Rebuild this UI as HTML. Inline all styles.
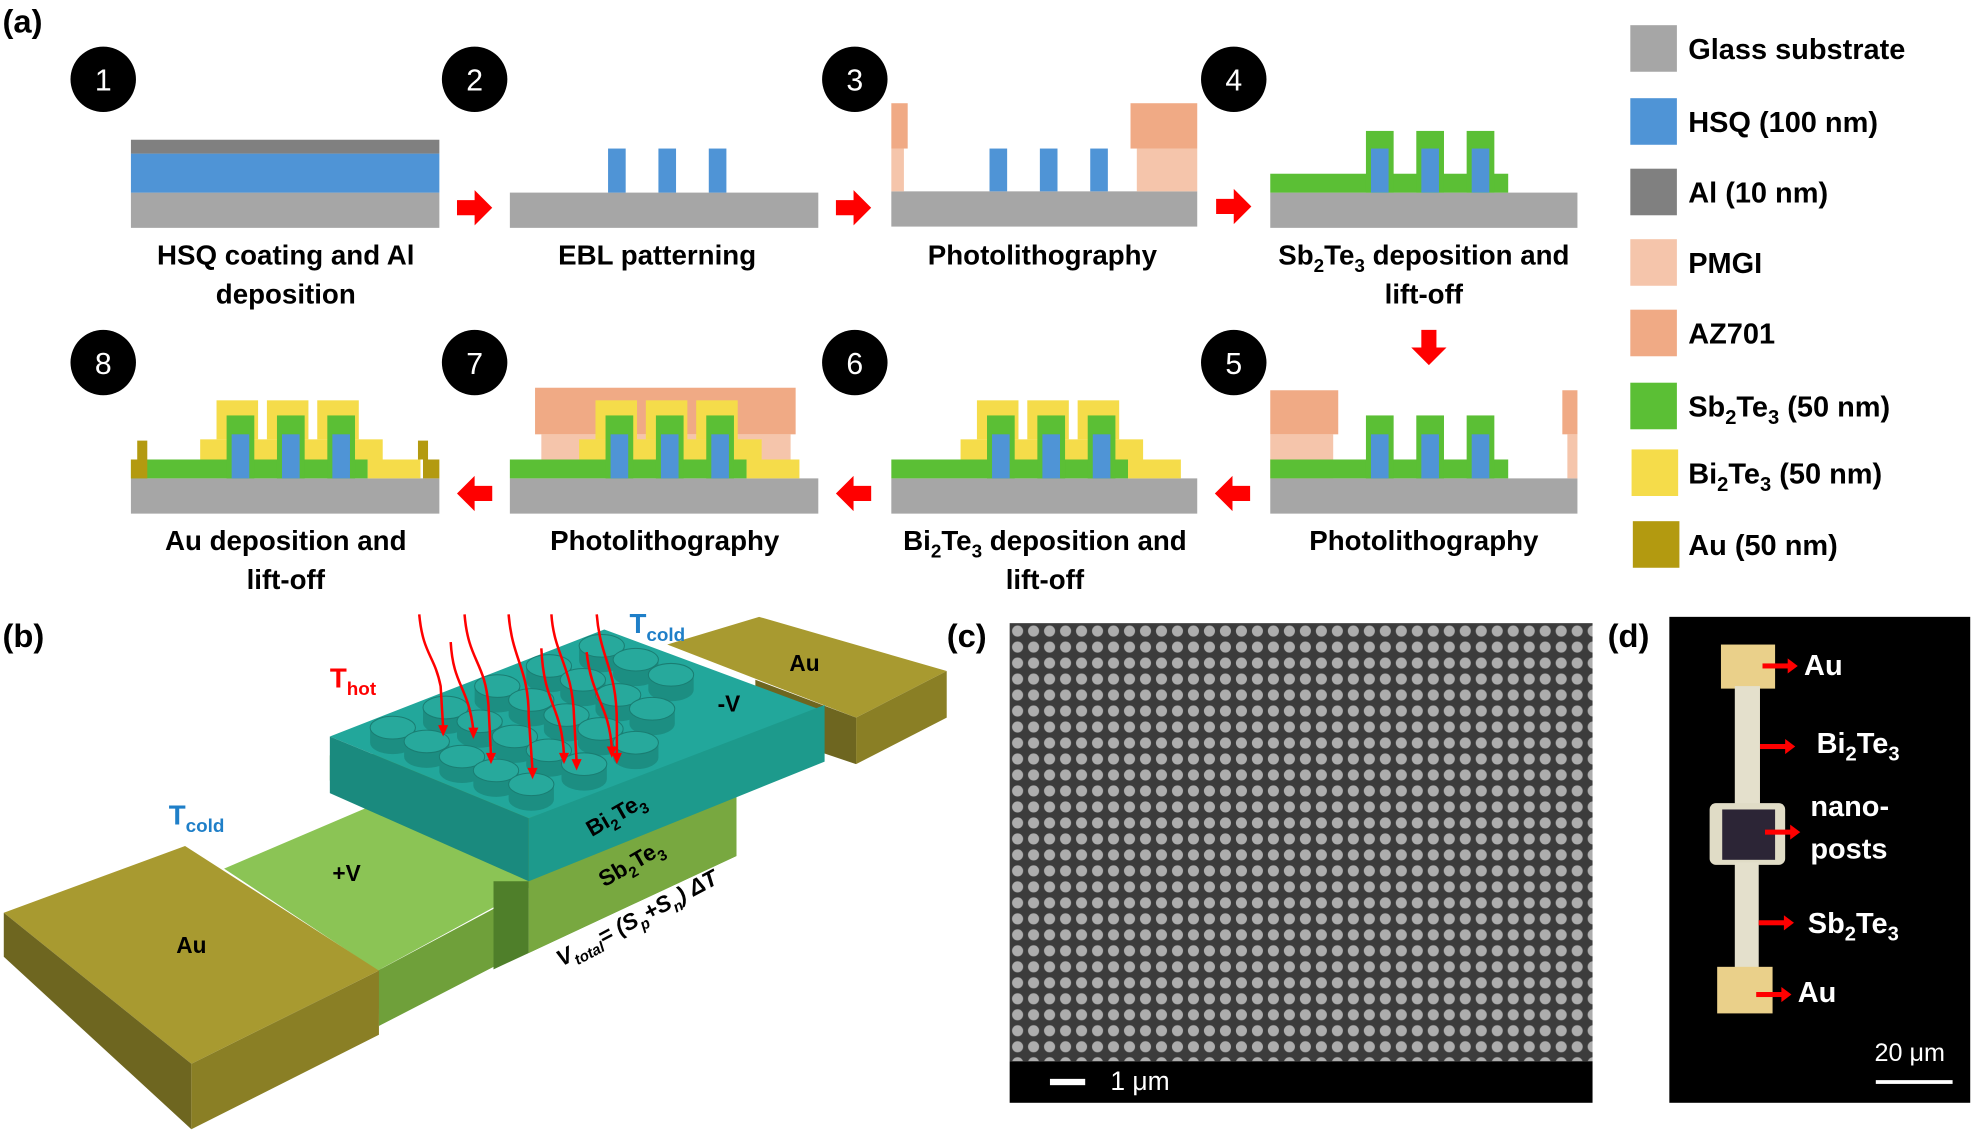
<!DOCTYPE html>
<html><head><meta charset="utf-8"><style>
html,body{margin:0;padding:0;background:#fff;}
svg{display:block;}
text{font-family:"Liberation Sans",Arial,sans-serif;}
.lb{font-weight:bold;font-size:22px;fill:#000;text-anchor:middle;}
.lg{font-weight:bold;font-size:23px;fill:#000;}
.num{font-size:24px;fill:#fff;text-anchor:middle;}
.pl{font-size:26px;fill:#000;font-weight:bold;}
</style></head><body>
<svg width="1974" height="1133" viewBox="0 0 1568 900" preserveAspectRatio="none" xmlns="http://www.w3.org/2000/svg">
<defs>
<pattern id="dots" x="802" y="495" width="12.7" height="12.7" patternUnits="userSpaceOnUse">
<rect width="12.7" height="12.7" fill="#3c3c3c"/>
<circle cx="6.3" cy="6.3" r="4.4" fill="#adadad"/>
</pattern>
<g id="ra"><polygon points="0,-6 14,-6 14,-14 28,0 14,14 14,6 0,6" fill="#f00"/></g>
<g id="post">
<path d="M-18,-12 L-18,0 A18,9 0 0 0 18,0 L18,-12 Z" fill="#1c8e82"/>
<ellipse cx="0" cy="-12" rx="18" ry="9" fill="#27a99c" stroke="#1a7d72" stroke-width="0.8"/>
</g>
</defs>
<rect width="1568" height="900" fill="#fff"/>

<text x="2" y="26" class="pl">(a)</text>
<text x="2" y="514" class="pl">(b)</text>
<text x="752" y="514" class="pl">(c)</text>
<text x="1277" y="514" class="pl">(d)</text>

<g>
<circle cx="82" cy="63" r="26" fill="#000"/><text x="82" y="72" class="num">1</text>
<circle cx="377" cy="63" r="26" fill="#000"/><text x="377" y="72" class="num">2</text>
<circle cx="679" cy="63" r="26" fill="#000"/><text x="679" y="72" class="num">3</text>
<circle cx="980" cy="63" r="26" fill="#000"/><text x="980" y="72" class="num">4</text>
<circle cx="82" cy="288" r="26" fill="#000"/><text x="82" y="297" class="num">8</text>
<circle cx="377" cy="288" r="26" fill="#000"/><text x="377" y="297" class="num">7</text>
<circle cx="679" cy="288" r="26" fill="#000"/><text x="679" y="297" class="num">6</text>
<circle cx="980" cy="288" r="26" fill="#000"/><text x="980" y="297" class="num">5</text>
</g>

<rect x="104" y="153" width="245" height="28" fill="#a6a6a6"/>
<rect x="104" y="122" width="245" height="31" fill="#4f94d6"/>
<rect x="104" y="111" width="245" height="11" fill="#808080"/>
<rect x="405" y="153" width="245" height="28" fill="#a6a6a6"/>
<rect x="483" y="118" width="14" height="35" fill="#4f94d6"/>
<rect x="523" y="118" width="14" height="35" fill="#4f94d6"/>
<rect x="563" y="118" width="14" height="35" fill="#4f94d6"/>
<rect x="708" y="152" width="243" height="28" fill="#a6a6a6"/>
<rect x="786" y="118" width="14" height="34" fill="#4f94d6"/>
<rect x="826" y="118" width="14" height="34" fill="#4f94d6"/>
<rect x="866" y="118" width="14" height="34" fill="#4f94d6"/>
<rect x="708" y="118" width="10" height="34" fill="#f5c5ab"/>
<rect x="708" y="82" width="13" height="36" fill="#f0aa85"/>
<rect x="903" y="118" width="48" height="34" fill="#f5c5ab"/>
<rect x="898" y="82" width="53" height="36" fill="#f0aa85"/>
<rect x="1009" y="153" width="244" height="28" fill="#a6a6a6"/>
<rect x="1009" y="138" width="189" height="15" fill="#5bbf35"/>
<rect x="1085" y="104" width="22" height="49" fill="#5bbf35"/>
<rect x="1125" y="104" width="22" height="49" fill="#5bbf35"/>
<rect x="1165" y="104" width="22" height="49" fill="#5bbf35"/>
<rect x="1089" y="118" width="14" height="35" fill="#4f94d6"/>
<rect x="1129" y="118" width="14" height="35" fill="#4f94d6"/>
<rect x="1169" y="118" width="14" height="35" fill="#4f94d6"/>

<rect x="1009" y="380" width="244" height="28" fill="#a6a6a6"/>
<rect x="1009" y="345" width="50" height="35" fill="#f5c5ab"/>
<rect x="1009" y="310" width="54" height="35" fill="#f0aa85"/>
<rect x="1245" y="345" width="8" height="35" fill="#f5c5ab"/>
<rect x="1241" y="310" width="12" height="35" fill="#f0aa85"/>
<rect x="1009" y="365" width="189" height="15" fill="#5bbf35"/>
<rect x="1085" y="330" width="22" height="50" fill="#5bbf35"/>
<rect x="1125" y="330" width="22" height="50" fill="#5bbf35"/>
<rect x="1165" y="330" width="22" height="50" fill="#5bbf35"/>
<rect x="1089" y="345" width="14" height="35" fill="#4f94d6"/>
<rect x="1129" y="345" width="14" height="35" fill="#4f94d6"/>
<rect x="1169" y="345" width="14" height="35" fill="#4f94d6"/>

<g transform="translate(708,0)">
<rect x="0" y="380" width="243" height="28" fill="#a6a6a6"/>
<rect x="55" y="349" width="145" height="16" fill="#f5dc4a"/>
<rect x="188" y="365" width="42" height="15" fill="#f5dc4a"/>
<rect x="68" y="318" width="33" height="31" fill="#f5dc4a"/>
<rect x="108" y="318" width="33" height="31" fill="#f5dc4a"/>
<rect x="148" y="318" width="33" height="31" fill="#f5dc4a"/>
<rect x="0" y="365" width="188" height="15" fill="#5bbf35"/>
<rect x="76" y="330" width="22" height="50" fill="#5bbf35"/>
<rect x="116" y="330" width="22" height="50" fill="#5bbf35"/>
<rect x="156" y="330" width="22" height="50" fill="#5bbf35"/>
<rect x="80" y="345" width="14" height="35" fill="#4f94d6"/>
<rect x="120" y="345" width="14" height="35" fill="#4f94d6"/>
<rect x="160" y="345" width="14" height="35" fill="#4f94d6"/>
</g>
<g transform="translate(405,0)">
<rect x="0" y="380" width="245" height="28" fill="#a6a6a6"/>
<rect x="25" y="345" width="198" height="20" fill="#f5c5ab"/>
<rect x="20" y="308" width="207" height="37" fill="#f0aa85"/>
<rect x="55" y="349" width="145" height="16" fill="#f5dc4a"/>
<rect x="188" y="365" width="42" height="15" fill="#f5dc4a"/>
<rect x="68" y="318" width="33" height="31" fill="#f5dc4a"/>
<rect x="108" y="318" width="33" height="31" fill="#f5dc4a"/>
<rect x="148" y="318" width="33" height="31" fill="#f5dc4a"/>
<rect x="0" y="365" width="188" height="15" fill="#5bbf35"/>
<rect x="76" y="330" width="22" height="50" fill="#5bbf35"/>
<rect x="116" y="330" width="22" height="50" fill="#5bbf35"/>
<rect x="156" y="330" width="22" height="50" fill="#5bbf35"/>
<rect x="80" y="345" width="14" height="35" fill="#4f94d6"/>
<rect x="120" y="345" width="14" height="35" fill="#4f94d6"/>
<rect x="160" y="345" width="14" height="35" fill="#4f94d6"/>
</g>
<g transform="translate(104,0)">
<rect x="0" y="380" width="245" height="28" fill="#a6a6a6"/>
<rect x="55" y="349" width="145" height="16" fill="#f5dc4a"/>
<rect x="188" y="365" width="42" height="15" fill="#f5dc4a"/>
<rect x="68" y="318" width="33" height="31" fill="#f5dc4a"/>
<rect x="108" y="318" width="33" height="31" fill="#f5dc4a"/>
<rect x="148" y="318" width="33" height="31" fill="#f5dc4a"/>
<rect x="0" y="365" width="188" height="15" fill="#5bbf35"/>
<rect x="76" y="330" width="22" height="50" fill="#5bbf35"/>
<rect x="116" y="330" width="22" height="50" fill="#5bbf35"/>
<rect x="156" y="330" width="22" height="50" fill="#5bbf35"/>
<rect x="80" y="345" width="14" height="35" fill="#4f94d6"/>
<rect x="120" y="345" width="14" height="35" fill="#4f94d6"/>
<rect x="160" y="345" width="14" height="35" fill="#4f94d6"/>
<rect x="0" y="365" width="13" height="15" fill="#b39a10"/>
<rect x="5" y="350" width="8" height="15" fill="#b39a10"/>
<rect x="232" y="365" width="13" height="15" fill="#b39a10"/>
<rect x="228" y="350" width="8" height="15" fill="#b39a10"/>
</g>

<use href="#ra" transform="translate(363,165)"/>
<use href="#ra" transform="translate(664,165)"/>
<use href="#ra" transform="translate(966,164)"/>
<use href="#ra" transform="translate(1135,262) rotate(90)"/>
<use href="#ra" transform="translate(993,392) rotate(180)"/>
<use href="#ra" transform="translate(692,392) rotate(180)"/>
<use href="#ra" transform="translate(391,392) rotate(180)"/>

<text x="227" y="210" class="lb">HSQ coating and Al</text>
<text x="227" y="241" class="lb">deposition</text>
<text x="522" y="210" class="lb">EBL patterning</text>
<text x="828" y="210" class="lb">Photolithography</text>
<text x="1131" y="210" class="lb">Sb<tspan font-size="15" dy="6">2</tspan><tspan dy="-6">Te</tspan><tspan font-size="15" dy="6">3</tspan><tspan dy="-6"> deposition and</tspan></text>
<text x="1131" y="241" class="lb">lift-off</text>
<text x="227" y="437" class="lb">Au deposition and</text>
<text x="227" y="468" class="lb">lift-off</text>
<text x="528" y="437" class="lb">Photolithography</text>
<text x="830" y="437" class="lb">Bi<tspan font-size="15" dy="6">2</tspan><tspan dy="-6">Te</tspan><tspan font-size="15" dy="6">3</tspan><tspan dy="-6"> deposition and</tspan></text>
<text x="830" y="468" class="lb">lift-off</text>
<text x="1131" y="437" class="lb">Photolithography</text>

<rect x="1295" y="20" width="37" height="37" fill="#a6a6a6"/><text x="1341" y="47" class="lg">Glass substrate</text>
<rect x="1295" y="78" width="37" height="37" fill="#4f94d6"/><text x="1341" y="105" class="lg">HSQ (100 nm)</text>
<rect x="1295" y="134" width="37" height="37" fill="#808080"/><text x="1341" y="161" class="lg">Al (10 nm)</text>
<rect x="1295" y="190" width="37" height="37" fill="#f5c5ab"/><text x="1341" y="217" class="lg">PMGI</text>
<rect x="1295" y="246" width="37" height="37" fill="#f0aa85"/><text x="1341" y="273" class="lg">AZ701</text>
<rect x="1295" y="304" width="37" height="37" fill="#5bbf35"/><text x="1341" y="331" class="lg">Sb<tspan font-size="16" dy="6">2</tspan><tspan dy="-6">Te</tspan><tspan font-size="16" dy="6">3</tspan><tspan dy="-6"> (50 nm)</tspan></text>
<rect x="1296" y="357" width="37" height="37" fill="#f5dc4a"/><text x="1341" y="384" class="lg">Bi<tspan font-size="16" dy="6">2</tspan><tspan dy="-6">Te</tspan><tspan font-size="16" dy="6">3</tspan><tspan dy="-6"> (50 nm)</tspan></text>
<rect x="1297" y="414" width="37" height="37" fill="#b39a10"/><text x="1341" y="441" class="lg">Au (50 nm)</text>

<!-- panel b 3D -->
<polygon points="530,512 603,490 752,533 680,570" fill="#a89a30"/>
<polygon points="680,570 752,533 752,570 680,607" fill="#8a7f25"/>
<polygon points="600,540 680,570 680,607 600,580" fill="#6e6620"/>
<!-- green leg + Sb block -->
<polygon points="178,690 295,640 430,700 300,771" fill="#8bc455"/>
<polygon points="300,771 392,722 392,768 301,815" fill="#6fa03a"/>
<polygon points="392,700 420,700 420,757 392,770" fill="#4f7f2a"/>
<polygon points="262,620 420,700 420,757 585,680 585,590 262,600" fill="#6a9f3a"/>
<polygon points="420,700 585,625 585,680 420,757" fill="#78a840"/>
<!-- blue block -->
<polygon points="262,585 480,500 655,565 420,650" fill="#22a79b"/>
<polygon points="262,585 420,650 420,700 262,630" fill="#1a8a7e"/>
<polygon points="420,650 655,560 655,605 420,700" fill="#1d9a8c"/>
<!-- nanoposts (sorted back to front) -->
<use href="#post" x="478" y="525"/>
<use href="#post" x="436" y="541"/>
<use href="#post" x="505" y="536"/>
<use href="#post" x="463" y="552"/>
<use href="#post" x="533" y="548"/>
<use href="#post" x="395" y="557"/>
<use href="#post" x="491" y="564"/>
<use href="#post" x="422" y="568"/>
<use href="#post" x="354" y="574"/>
<use href="#post" x="518" y="575"/>
<use href="#post" x="450" y="580"/>
<use href="#post" x="381" y="585"/>
<use href="#post" x="312" y="590"/>
<use href="#post" x="477" y="591"/>
<use href="#post" x="409" y="597"/>
<use href="#post" x="339" y="601"/>
<use href="#post" x="505" y="602"/>
<use href="#post" x="436" y="608"/>
<use href="#post" x="367" y="613"/>
<use href="#post" x="464" y="619"/>
<use href="#post" x="394" y="624"/>
<use href="#post" x="422" y="635"/>
<!-- heat arrows -->
<g fill="none" stroke="#f00" stroke-width="2">
<path d="M333,488 C336,520 345,520 350,545 L352,578"/>
<path d="M369,488 C372,525 385,525 388,560 L390,600"/>
<path d="M404,488 C407,525 420,530 420,570 L423,612"/>
<path d="M438,488 C440,520 455,530 456,570 L458,605"/>
<path d="M474,488 C477,525 490,530 490,575 L490,600"/>
<path d="M358,510 C360,545 372,545 376,580"/>
<path d="M430,515 C432,560 446,560 448,600"/>
<path d="M466,518 C470,555 484,560 486,595"/>
</g>
<g fill="#f00">
<polygon points="348,576 356,576 352,585"/><polygon points="386,598 394,598 390,607"/><polygon points="419,610 427,610 423,619"/><polygon points="454,603 462,603 458,612"/><polygon points="486,598 494,598 490,607"/><polygon points="372,578 380,578 376,587"/><polygon points="444,598 452,598 448,607"/><polygon points="482,593 490,593 486,602"/>
</g>
<!-- left Au -->
<polygon points="3,725 147,672 301,771 152,845" fill="#a89a30"/>
<polygon points="3,725 152,845 152,897 3,760" fill="#6e6620"/>
<polygon points="152,845 301,771 301,822 152,897" fill="#8a7f25"/>
<!-- b labels -->
<text x="500" y="503" font-size="22" fill="#1f7fc8" font-weight="bold">T<tspan font-size="15" dy="6">cold</tspan></text>
<text x="134" y="655" font-size="22" fill="#1f7fc8" font-weight="bold">T<tspan font-size="15" dy="6">cold</tspan></text>
<text x="262" y="546" font-size="22" fill="#f00" font-weight="bold">T<tspan font-size="15" dy="6">hot</tspan></text>
<text x="627" y="533" font-size="18" font-weight="bold">Au</text>
<text x="570" y="565" font-size="18" font-weight="bold">-V</text>
<text x="264" y="700" font-size="18" font-weight="bold">+V</text>
<text x="140" y="757" font-size="18" font-weight="bold">Au</text>
<text transform="translate(470,665) rotate(-30)" font-size="18" font-weight="bold">Bi<tspan font-size="12" dy="5">2</tspan><tspan dy="-5">Te</tspan><tspan font-size="12" dy="5">3</tspan></text>
<text transform="translate(480,705) rotate(-30)" font-size="18" font-weight="bold">Sb<tspan font-size="12" dy="5">2</tspan><tspan dy="-5">Te</tspan><tspan font-size="12" dy="5">3</tspan></text>
<text transform="translate(446,768) rotate(-28)" font-size="18" font-weight="bold" font-style="italic">V<tspan font-size="12" dy="5">total</tspan><tspan dy="-5">= (S</tspan><tspan font-size="12" dy="5">p</tspan><tspan dy="-5">+S</tspan><tspan font-size="12" dy="5">n</tspan><tspan dy="-5">) ΔT</tspan></text>

<!-- panel c -->
<rect x="802" y="495" width="463" height="348" fill="url(#dots)"/>
<rect x="802" y="843" width="463" height="33" fill="#000"/>
<rect x="834" y="857" width="28" height="5" fill="#fff"/>
<text x="882" y="866" font-size="21" fill="#fff">1 μm</text>

<!-- panel d -->
<rect x="1326" y="490" width="239" height="386" fill="#000"/>
<rect x="1367" y="512" width="43" height="35" fill="#ead08a"/>
<rect x="1378" y="545" width="20" height="97" fill="#e4e0cc"/>
<rect x="1358" y="638" width="60" height="49" rx="5" fill="#e0dcc6"/>
<rect x="1368" y="643" width="42" height="40" fill="#2c2536"/>
<rect x="1378" y="685" width="19" height="85" fill="#e4e0cc"/>
<rect x="1364" y="768" width="44" height="37" fill="#ead08a"/>
<g fill="#f00">
<rect x="1400" y="527" width="22" height="4"/><polygon points="1420,523 1428,529 1420,535"/>
<rect x="1398" y="591" width="22" height="4"/><polygon points="1418,587 1426,593 1418,599"/>
<rect x="1402" y="659" width="22" height="4"/><polygon points="1422,655 1430,661 1422,667"/>
<rect x="1397" y="731" width="22" height="4"/><polygon points="1417,727 1425,733 1417,739"/>
<rect x="1395" y="788" width="22" height="4"/><polygon points="1415,784 1423,790 1415,796"/>
</g>
<g fill="#fff" font-weight="bold" font-size="23">
<text x="1433" y="536">Au</text>
<text x="1443" y="598">Bi<tspan font-size="16" dy="6">2</tspan><tspan dy="-6">Te</tspan><tspan font-size="16" dy="6">3</tspan></text>
<text x="1438" y="648">nano-</text>
<text x="1438" y="682">posts</text>
<text x="1436" y="741">Sb<tspan font-size="16" dy="6">2</tspan><tspan dy="-6">Te</tspan><tspan font-size="16" dy="6">3</tspan></text>
<text x="1428" y="796">Au</text>
</g>
<text x="1489" y="843" font-size="20" fill="#fff">20 μm</text>
<rect x="1490" y="858" width="61" height="3" fill="#fff"/>
</svg>
</body></html>
